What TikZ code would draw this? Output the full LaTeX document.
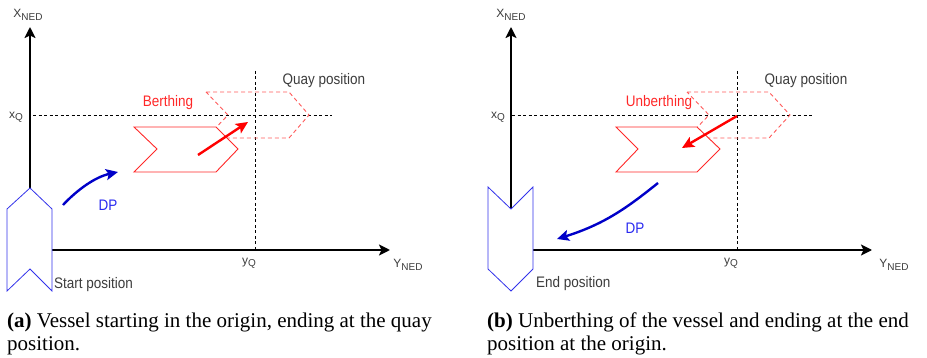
\documentclass[tikz,border=0pt]{standalone}
\usepackage{graphicx}
\usepackage{fontspec}
\setmainfont{Liberation Serif}
\newfontfamily\diagfont{Liberation Sans}
\usetikzlibrary{arrows.meta}
\newcommand{\vst}[1]{\scalebox{1}[1.13]{#1}}
\newcommand{\axlab}[2]{#1\raisebox{-0.38ex}{\fontsize{10}{10}\selectfont #2}}
\definecolor{txtgray}{RGB}{60,60,60}
\definecolor{vblue}{RGB}{50,50,235}
\definecolor{dpblue}{RGB}{0,0,200}
\definecolor{dptext}{RGB}{40,40,240}
\definecolor{vred}{RGB}{255,40,40}
\definecolor{vredl}{RGB}{255,90,90}
\begin{document}
\begin{tikzpicture}[x=1pt,y=-1pt,
  lbl/.style={font=\diagfont\fontsize{13.5}{15}\selectfont, text=txtgray, inner sep=0pt},
  axlbl/.style={font=\diagfont\fontsize{12}{13}\selectfont, text=txtgray, inner sep=0pt},
  axisline/.style={line width=2pt, -{Stealth[length=11pt,width=11pt,inset=2.5pt]}},
  guide/.style={line width=0.9pt, dash pattern=on 3pt off 2.5pt},
  vessel/.style={draw=vblue, line width=0.8pt, fill=white},
  redvessel/.style={draw=vred, line width=0.9pt, fill=white},
  quayvessel/.style={draw=vredl, line width=0.9pt, dash pattern=on 4pt off 3pt},
  redarrow/.style={draw=red, line width=2.4pt, -{Stealth[length=12pt,width=11pt,inset=2.5pt]}},
  bluearrow/.style={draw=dpblue, line width=2.4pt, -{Stealth[length=12pt,width=11pt,inset=2.5pt]}},
  caption/.style={font=\fontsize{21}{23}\selectfont, inner sep=0pt, anchor=base west}
]
\useasboundingbox (0,0) rectangle (927,358);

% ================= Panel (a) =================
% coordinates
\coordinate (aO1) at (30,188);
\coordinate (aXtip) at (30,27);
\coordinate (aO2) at (52,250);
\coordinate (aYtip) at (390,250);
\coordinate (aGx1) at (33,115);
\coordinate (aGx2) at (332,115);
\coordinate (aGy1) at (255,71);
\coordinate (aGy2) at (255,250);
\coordinate (aRs) at (198,155);
\coordinate (aRe) at (248,122);
\coordinate (aBs) at (63,205);
\coordinate (aBe) at (118,172);

% guides
\draw[guide] (aGx1) -- (aGx2);
\draw[guide] (aGy1) -- (aGy2);
% quay (dashed) vessel
\draw[quayvessel] (206,92) -- (289,92) -- (309,115) -- (289,138) -- (206,138) -- (228,115) -- cycle;
% berthing vessel
\draw[redvessel] (134,127) -- (216,127) -- (238,149) -- (216,172) -- (134,172) -- (157,149) -- cycle;
% red arrow
\draw[redarrow] (aRs) -- (aRe);
% axes
\draw[axisline] (aO1) -- (aXtip);
\draw[axisline] (aO2) -- (aYtip);
% start vessel
\draw[vessel] (7,209) -- (aO1) -- (52,209) -- (52,291) -- (30,269) -- (7,291) -- cycle;
% DP arrow
\draw[bluearrow] (aBs) .. controls (77,190) and (95,177) .. (aBe);

% labels
\node[axlbl] (aXlab) at (28,15) {\axlab{X}{NED}};
\node[axlbl] (aYlab) at (408,265) {\axlab{Y}{NED}};
\node[axlbl] (aXQ) at (16,117) {\axlab{x}{Q}};
\node[axlbl] (aYQ) at (249,263) {\axlab{y}{Q}};
\node[lbl] (aQuay) at (324,81) {\vst{Quay position}};
\node[lbl, text=vred] (aBerth) at (168,103) {\vst{Berthing}};
\node[lbl, text=dptext] (aDP) at (108,205) {\vst{DP}};
\node[lbl, anchor=west] (aStart) at (54,285) {\vst{Start position}};

% ================= Panel (b) =================
\coordinate (bO1) at (511,209);
\coordinate (bXtip) at (511,27);
\coordinate (bO2) at (533,250);
\coordinate (bYtip) at (872,250);
\coordinate (bGx1) at (512,115);
\coordinate (bGx2) at (813,115);
\coordinate (bGy1) at (737,71);
\coordinate (bGy2) at (737,250);
\coordinate (bRs) at (737,116);
\coordinate (bRe) at (682,148);
\coordinate (bBs) at (658,183);
\coordinate (bBe) at (557,239);

\draw[guide] (bGx1) -- (bGx2);
\draw[guide] (bGy1) -- (bGy2);
\draw[quayvessel] (687,92) -- (769,92) -- (790,115) -- (769,138) -- (687,138) -- (709,115) -- cycle;
\draw[redvessel] (616,127) -- (697,127) -- (720,149) -- (697,172) -- (616,172) -- (638,149) -- cycle;
\draw[redarrow] (bRs) -- (bRe);
\draw[axisline] (bO1) -- (bXtip);
\draw[axisline] (bO2) -- (bYtip);
\draw[vessel] (488,187) -- (bO1) -- (533,187) -- (533,269) -- (511,291) -- (488,269) -- cycle;
\draw[bluearrow] (bBs) .. controls (628,207) and (605,224) .. (bBe);

\node[axlbl] (bXlab) at (511,15) {\axlab{X}{NED}};
\node[axlbl] (bYlab) at (894,265) {\axlab{Y}{NED}};
\node[axlbl] (bXQ) at (498,117) {\axlab{x}{Q}};
\node[axlbl] (bYQ) at (731,263) {\axlab{y}{Q}};
\node[lbl] (bQuay) at (806,81) {\vst{Quay position}};
\node[lbl, text=vred] (bUnb) at (659,103) {\vst{Unberthing}};
\node[lbl, text=dptext] (bDP) at (635,228) {\vst{DP}};
\node[lbl, anchor=west] (bEnd) at (536,284) {\vst{End position}};

% ================= Captions =================
\node[caption] (capA1) at (7,327) {\textbf{(a)} Vessel starting in the origin, ending at the quay};
\node[caption] (capA2) at (7,350) {position.};
\node[caption] (capB1) at (487,327) {\textbf{(b)} Unberthing of the vessel and ending at the end};
\node[caption] (capB2) at (487,350) {position at the origin.};
\end{tikzpicture}
\end{document}
